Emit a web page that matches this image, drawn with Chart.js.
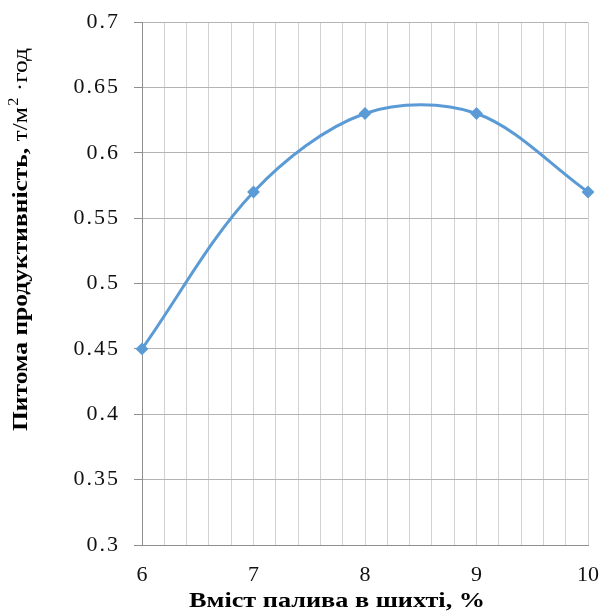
<!DOCTYPE html>
<html>
<head>
<meta charset="utf-8">
<script src="https://cdn.jsdelivr.net/npm/chart.js@4/dist/chart.umd.min.js"></script>
<style>
  html, body { margin: 0; padding: 0; background: #ffffff; }
  #wrap { width: 604px; height: 612px; }
</style>
</head>
<body>
<div id="wrap"><canvas id="c" width="604" height="612"></canvas></div>
<script>
// Fuel content in the charge (%) and the specific productivity (t/m²·h)
const fuelContent = [6, 7, 8, 9, 10];
const productivity = [0.45, 0.57, 0.63, 0.63, 0.57];

// Axis texts
const xTitle = 'Вміст палива в шихті, %';
const yTitleBold = 'Питома продуктивність, ';
const yTitleUnit = 'т/м';
const yTitleSup = '2';
const yTitleTail = ' ·год';

const SERIF = '"Liberation Serif", "Times New Roman", serif';
const LINE_BLUE = '#5b9bd5';

// Writes a run of text pieces along the baseline, stretched to a given length
function drawRuns(ctx, runs, length) {
  let total = 0;
  for (const r of runs) {
    ctx.font = r.font;
    r.w = ctx.measureText(r.text).width + (r.gap || 0);
    total += r.w;
  }
  ctx.scale(length / total, 1);
  let x = 0;
  for (const r of runs) {
    ctx.font = r.font;
    ctx.fillText(r.text, x + (r.gap || 0), r.dy || 0);
    x += r.w;
  }
}

// Draws both axis titles; the y title mixes bold and regular weights with a superscript
const axisTitles = {
  id: 'axisTitles',
  beforeDraw(chart) {
    // wider spacing for the value labels of the y axis
    const ys = chart.scales.y;
    if (!ys._spaced) {
      const orig = ys.drawLabels;
      ys.drawLabels = function (area) {
        this.ctx.save();
        this.ctx.letterSpacing = '2px';
        orig.call(this, area);
        this.ctx.restore();
      };
      ys._spaced = true;
    }
  },
  afterDraw(chart) {
    const { ctx, chartArea } = chart;
    ctx.save();
    ctx.fillStyle = '#000000';
    ctx.textBaseline = 'alphabetic';
    ctx.textAlign = 'left';

    // x title
    ctx.save();
    ctx.translate(chartArea.left + 47, 607);
    drawRuns(ctx, [{ text: xTitle, font: 'bold 22px ' + SERIF }], 296);
    ctx.restore();

    // y title, rotated, reading bottom to top
    ctx.save();
    ctx.translate(27, 431);
    ctx.rotate(-Math.PI / 2);
    drawRuns(ctx, [
      { text: yTitleBold, font: 'bold 22px ' + SERIF },
      { text: yTitleUnit, font: '22px ' + SERIF },
      { text: yTitleSup, font: '14px ' + SERIF, dy: -9, gap: 1 },
      { text: yTitleTail, font: '22px ' + SERIF }
    ], 383);
    ctx.restore();

    ctx.restore();
  }
};

new Chart(document.getElementById('c'), {
  type: 'line',
  data: {
    datasets: [{
      data: fuelContent.map((v, i) => ({ x: v, y: productivity[i] })),
      borderColor: LINE_BLUE,
      backgroundColor: LINE_BLUE,
      borderWidth: 3,
      tension: 0.33,
      pointStyle: 'rectRot',
      pointRadius: 5,
      pointBorderWidth: 2,
      pointBorderColor: LINE_BLUE,
      pointBackgroundColor: LINE_BLUE,
      clip: false
    }]
  },
  options: {
    responsive: false,
    animation: false,
    events: [],
    layout: { padding: { top: 22, right: 16, bottom: 0, left: 0 } },
    plugins: {
      legend: { display: false },
      tooltip: { enabled: false }
    },
    scales: {
      x: {
        type: 'linear',
        min: 6,
        max: 10,
        afterFit(scale) {
          scale.height = 67;
          scale.paddingLeft = 0;
          scale.paddingRight = 0;
        },
        afterBuildTicks(scale) {
          const ticks = [];
          for (let i = 0; i <= 20; i++) ticks.push({ value: 6 + i * 0.2 });
          scale.ticks = ticks;
        },
        ticks: {
          autoSkip: false,
          maxRotation: 0,
          padding: 17,
          color: '#111111',
          font: { family: SERIF, size: 22 },
          callback(v) {
            const r = Math.round(v);
            return Math.abs(v - r) < 1e-6 ? String(r) : '';
          }
        },
        grid: { color: '#d2d2d2', lineWidth: 1, drawTicks: false },
        border: { color: '#8e8e8e', width: 1 }
      },
      y: {
        type: 'linear',
        min: 0.3,
        max: 0.7,
        afterFit(scale) {
          scale.width = 142;
          scale.paddingTop = 0;
          scale.paddingBottom = 0;
        },
        ticks: {
          stepSize: 0.05,
          padding: 14,
          color: '#111111',
          font: { family: SERIF, size: 22 },
          callback(v) { return String(Math.round(v * 100) / 100); }
        },
        grid: { color: '#b4b4b4', lineWidth: 1, drawTicks: true, tickLength: 8, tickColor: '#8e8e8e' },
        border: { color: '#8e8e8e', width: 1 }
      }
    }
  },
  plugins: [axisTitles]
});
</script>
</body>
</html>
